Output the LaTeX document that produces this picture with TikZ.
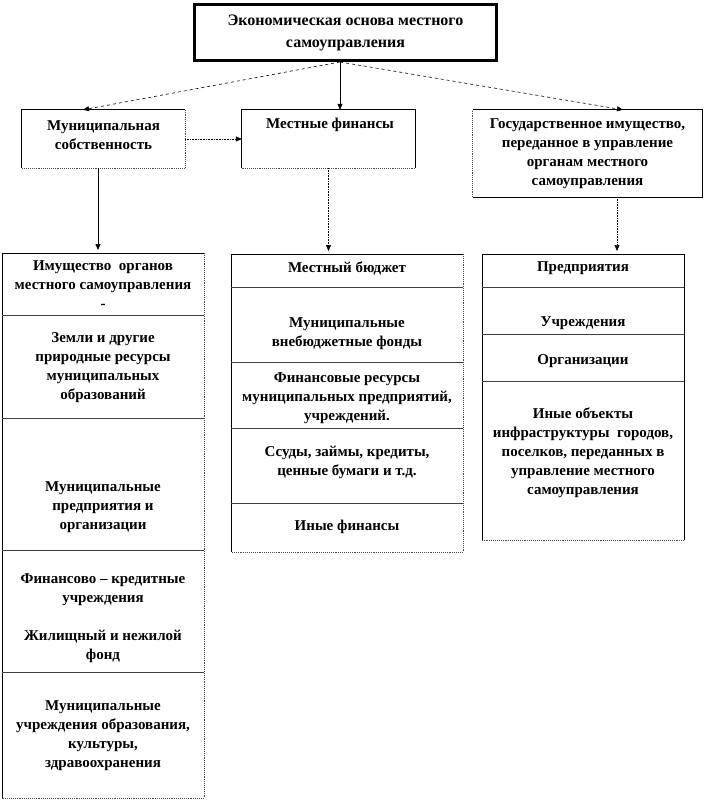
\documentclass[tikz,border=0pt]{standalone}
\usepackage{fontspec}
\setmainfont{Liberation Serif}
\usetikzlibrary{arrows.meta}
\begin{document}
\begin{tikzpicture}[x=1pt,y=-1pt,
  t/.style={font=\bfseries\fontsize{15}{19}\selectfont, align=center, inner sep=0pt},
  box/.style={inner sep=0pt, draw=none},
  arr/.style={-{Triangle[length=6pt,width=5pt]}, line width=0.6pt},
  solidedge/.style={line width=0.7pt},
  dotedge/.style={line width=0.9pt, densely dotted, black!70},
  divider/.style={line width=0.7pt, black!75}]
\useasboundingbox (0,0) rectangle (706,802);

% upper boxes
\node[draw, line width=2.5pt, minimum width=302pt, minimum height=56pt, inner sep=0pt,
      font=\bfseries\fontsize{16}{22}\selectfont, align=center] (top) at (345.5,32.5)
      {Экономическая основа местного\\самоуправления};
\node[box, minimum width=163pt, minimum height=58pt] (mun) at (103.5,139) {};
\node[t] (muntxt) at (103.5,135) {Муниципальная\\собственность};
\node[box, minimum width=173pt, minimum height=58pt] (fin) at (328.5,139) {};
\node[t] (fintxt) at (330,125) {Местные финансы};
\node[box, t, minimum width=229pt, minimum height=87pt] (gos) at (587.5,153.5)
      {Государственное имущество,\\переданное в управление\\органам местного\\самоуправления};

% box edges
\draw[solidedge] (mun.south west) -- (mun.north west) -- (mun.north east);
\draw[dotedge] (mun.north east) -- (mun.south east) -- (mun.south west);
\draw[solidedge] (fin.south west) -- (fin.north west) -- (fin.north east) -- (fin.south east);
\draw[dotedge] (fin.south east) -- (fin.south west);
\draw[solidedge] (gos.north west) -- (gos.north east) -- (gos.south east) -- (gos.south west);
\draw[dotedge] (gos.south west) -- (gos.north west);

% columns frames
\draw[solidedge] (2,798) -- (2,253) -- (204,253);
\draw[dotedge] (204,253) -- (204,798) -- (2,798);
\foreach \y in {315,418,550,672} \draw[divider] (2,\y) -- (204,\y);

\draw[solidedge] (231,552) -- (231,254) -- (463,254);
\draw[dotedge] (463,254) -- (463,552) -- (231,552);
\foreach \y in {287,362,428,503} \draw[divider] (231,\y) -- (463,\y);

\draw[solidedge] (482,540) -- (482,254) -- (684,254) -- (684,540);
\draw[dotedge] (684,540) -- (482,540);
\foreach \y in {287,334,381} \draw[divider] (482,\y) -- (684,\y);

\coordinate (tp) at (340,62);
\coordinate (c1top) at (98,250);
\coordinate (c2top) at (328.5,251);
\coordinate (c3top) at (617,251);

% column 1 texts
\node[t] (c1a) at (103,285) {Имущество\ \ органов\\местного самоуправления\\-};
\node[t] (c1b) at (103,368) {Земли и другие\\природные ресурсы\\муниципальных\\образований};
\node[t] (c1c) at (103,507) {Муниципальные\\предприятия и\\организации};
\node[t] (c1d) at (103,618.5) {Финансово – кредитные\\учреждения\\[19pt]Жилищный и нежилой\\фонд};
\node[t] (c1e) at (103,735.5) {Муниципальные\\учреждения образования,\\культуры,\\здравоохранения};

% column 2 texts
\node[t] (c2a) at (347,268) {Местный бюджет};
\node[t] (c2b) at (347,334) {Муниципальные\\внебюджетные фонды};
\node[t] (c2c) at (347,398.5) {Финансовые ресурсы\\муниципальных предприятий,\\учреждений.};
\node[t] (c2d) at (347,462.5) {Ссуды, займы, кредиты,\\ценные бумаги и т.д.};
\node[t] (c2e) at (347,527) {Иные финансы};

% column 3 texts
\node[t] (c3a) at (583,268) {Предприятия};
\node[t] (c3b) at (583,323) {Учреждения};
\node[t] (c3c) at (583,361) {Организации};
\node[t] (c3d) at (583,453) {Иные объекты\\инфраструктуры\ \ городов,\\поселков, переданных в\\управление местного\\самоуправления};

% connectors
\draw[arr] (tp) -- (tp |- fin.north);
\draw[arr, dashed] (tp) -- ([xshift=-20.5pt]mun.north);
\draw[arr, dashed] (tp) -- ([xshift=35.5pt]gos.north);
\draw[arr, densely dotted] (mun.east) -- (fin.west);
\draw[arr] (c1top |- mun.south) -- (c1top);
\draw[arr, densely dotted] (fin.south) -- (c2top);
\draw[arr, densely dotted] (c3top |- gos.south) -- (c3top);
\end{tikzpicture}
\end{document}
